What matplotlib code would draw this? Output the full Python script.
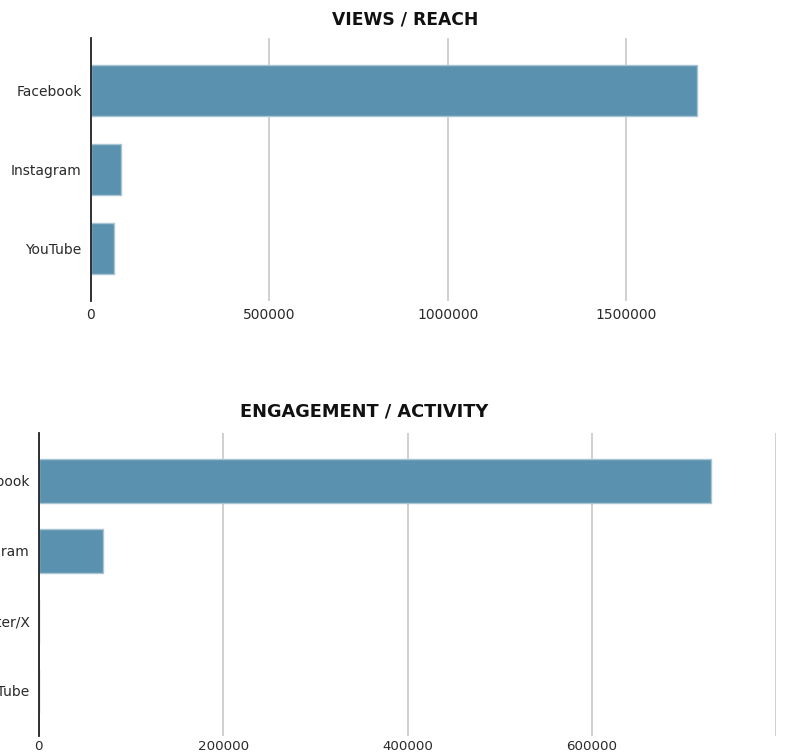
import matplotlib
matplotlib.use("Agg")
import matplotlib.pyplot as plt

# Data
views_platforms = ["Facebook", "Instagram", "YouTube"]
views_values = [1697000, 84000, 64500]

eng_platforms = ["Facebook", "Instagram", "Twitter/X", "YouTube"]
eng_values = [729000, 70100, 0, 0]

top_ticks = [0, 500000, 1000000, 1500000]
bot_ticks = [0, 200000, 400000, 600000, 800000]
bot_tick_labels = ["0", "200000", "400000", "600000", ""]

BAR = "#5a91ae"
EDGE = "#a8c5d5"
GRID = "#d0d0d0"
TXT = "#2a2a2a"

plt.rcParams['font.family'] = ['DejaVu Sans']

W, H = 794, 755
fig = plt.figure(figsize=(W / 100, H / 100), dpi=100)


def px_axes(l, r, t, b):
    return fig.add_axes([l / W, 1 - b / H, (r - l) / W, (b - t) / H])


def style(ax, ticks, labels, xmax, ylim, xpad, xsize=10):
    ax.set_xlim(0, xmax)
    ax.set_ylim(*ylim)
    ax.set_xticks(ticks)
    ax.set_xticklabels(labels)
    ax.grid(axis="x", color=GRID, linewidth=1.4)
    ax.set_axisbelow(True)
    for s in ["top", "right", "bottom"]:
        ax.spines[s].set_visible(False)
    ax.spines["left"].set_color("#222222")
    ax.spines["left"].set_linewidth(1.3)
    ax.spines["left"].set_zorder(5)
    ax.tick_params(axis="both", length=0, labelsize=10, labelcolor=TXT)
    ax.tick_params(axis="y", pad=6.5)
    ax.tick_params(axis="x", pad=xpad, labelsize=xsize)


# Top chart
ax1 = px_axes(90.7, 719, 37.7, 301)
ax1.barh(range(len(views_platforms)), views_values, height=0.645,
         color=BAR, edgecolor=EDGE, linewidth=1.0, joinstyle="round", zorder=3)
ax1.set_yticks(range(len(views_platforms)))
ax1.set_yticklabels(views_platforms)
style(ax1, top_ticks, [str(t) for t in top_ticks], 1760000, (2.66, -0.67), 5)
fig.text(405 / W, 1 - 19.2 / H, "VIEWS / REACH", ha="center", va="center",
         fontsize=12.3, fontweight="bold", color="#111111")

# Bottom chart
ax2 = px_axes(38.7, 776.3, 433.3, 735.7)
ax2.barh(range(len(eng_platforms)), eng_values, height=0.64,
         color=BAR, edgecolor=EDGE, linewidth=1.0, joinstyle="round", zorder=3)
ax2.set_yticks(range(len(eng_platforms)))
ax2.set_yticklabels(eng_platforms)
style(ax2, bot_ticks, bot_tick_labels, 800000, (3.64, -0.68), 3, 9.6)
fig.text(364 / W, 1 - 412 / H, "ENGAGEMENT / ACTIVITY", ha="center", va="center",
         fontsize=12.8, fontweight="bold", color="#111111")

fig.savefig("out.png", dpi=100)
